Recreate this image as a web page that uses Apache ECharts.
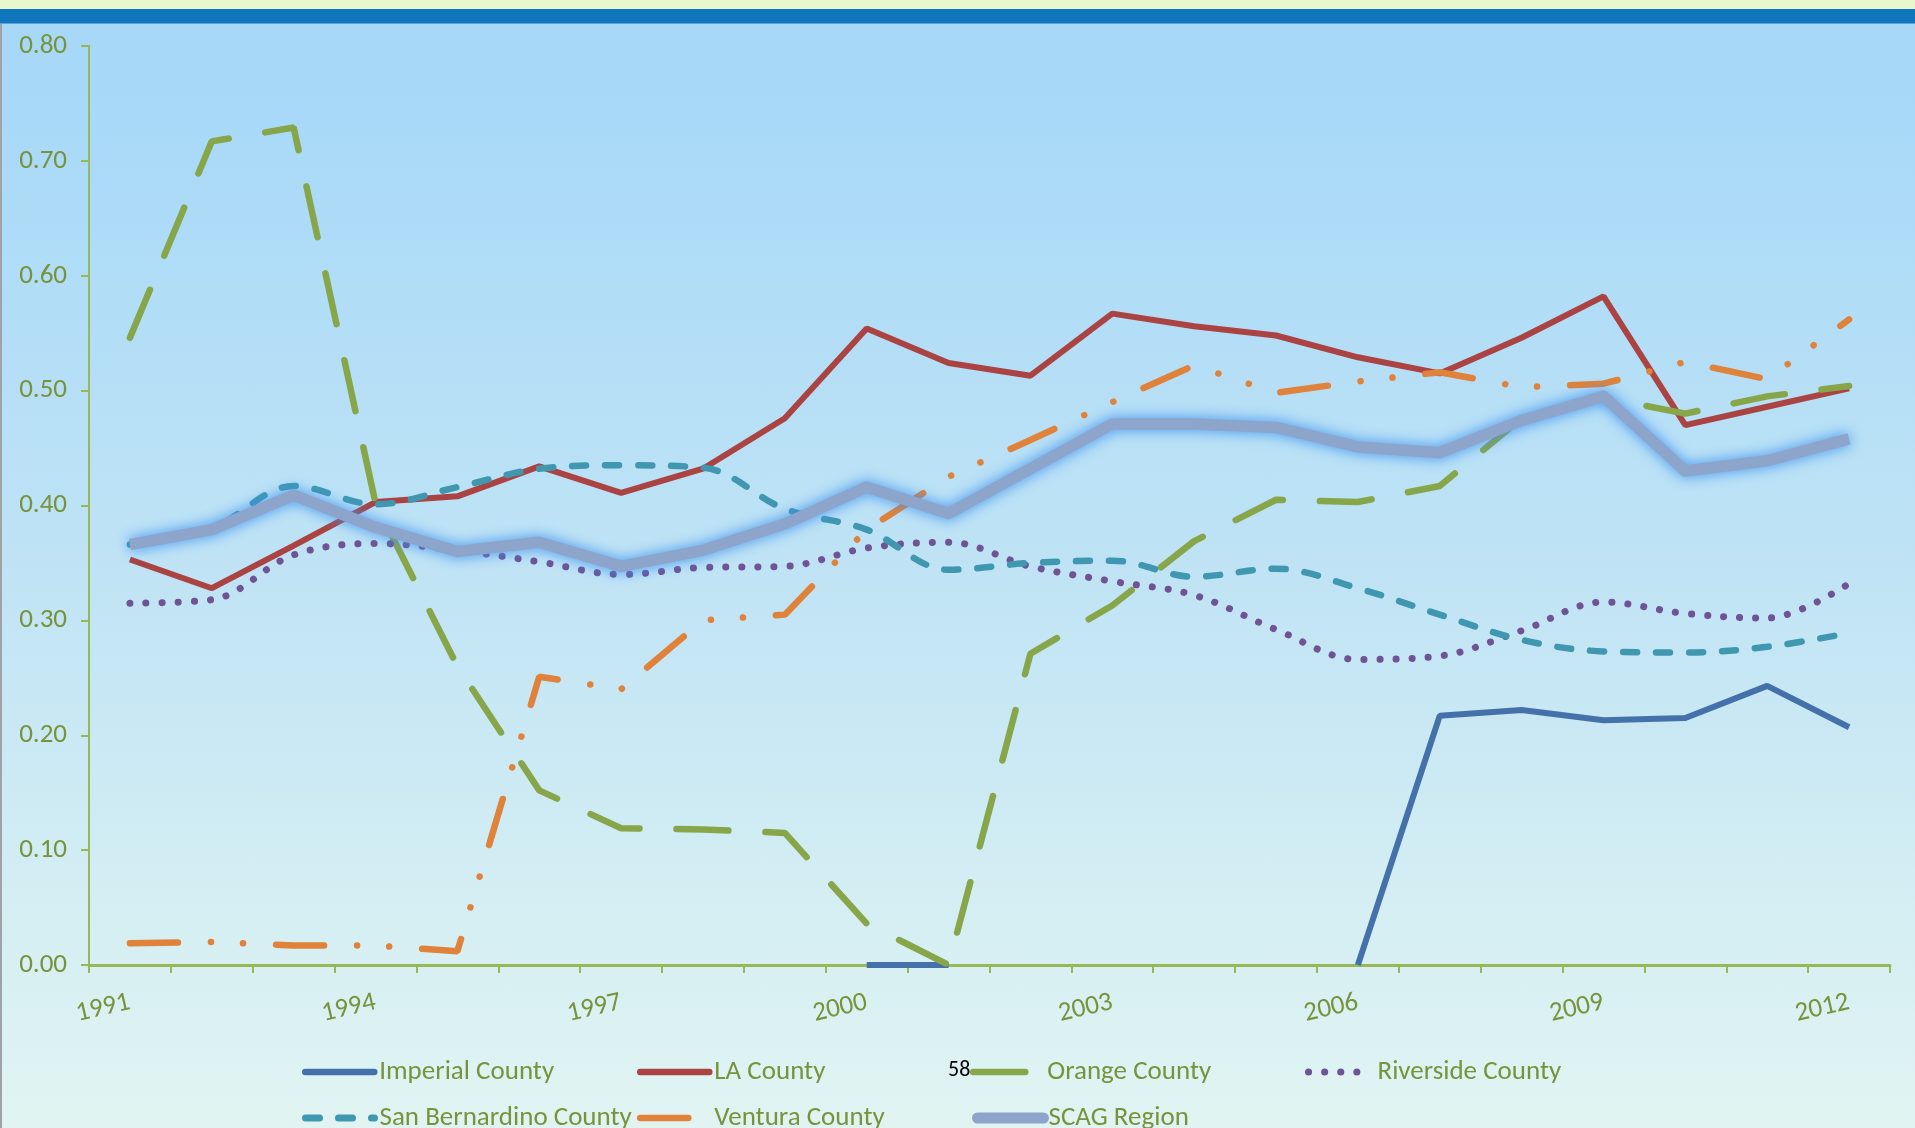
<!DOCTYPE html>
<html>
<head>
<meta charset="utf-8">
<script src="https://cdn.jsdelivr.net/npm/echarts@6/dist/echarts.min.js"></script>
<style>
  html, body { margin: 0; padding: 0; width: 1915px; height: 1128px; overflow: hidden; }
  body { background: linear-gradient(to bottom, #A6D7F7 0px, #A8D9F8 120px, #BFE3F5 560px, #D4EEF3 900px, #E1F4F2 1128px); position: relative; }
  #strip1 { position: absolute; left: 0; top: 0; width: 1915px; height: 9px; background: #EAF7CB; }
  #strip2 { position: absolute; left: 0; top: 9px; width: 1915px; height: 14px; background: #0F75BD; border-bottom: 1px solid #5FA0D6; }
  #lborder { position: absolute; left: 0; top: 24px; width: 2px; height: 1104px; background: #9DA3A8; }
  #chart { position: absolute; left: 0; top: 0; width: 1915px; height: 1128px; }
</style>
</head>
<body>
<div id="strip1"></div>
<div id="strip2"></div>
<div id="lborder"></div>
<div id="chart"></div>
<script>
const years = ['1991','1992','1993','1994','1995','1996','1997','1998','1999','2000','2001','2002','2003','2004','2005','2006','2007','2008','2009','2010','2011','2012'];
const imperialCounty = [null,null,null,null,null,null,null,null,null,0,0,null,null,null,null,0,0.217,0.222,0.213,0.215,0.243,0.207];
const laCounty = [0.353,0.328,0.365,0.403,0.408,0.434,0.411,0.432,0.476,0.554,0.524,0.513,0.567,0.556,0.548,0.529,0.515,0.546,0.582,0.470,0.486,0.502];
const orangeCounty = [0.546,0.717,0.729,0.402,0.260,0.152,0.119,0.118,0.115,0.036,0.000,0.271,0.313,0.369,0.405,0.403,0.417,0.476,0.494,0.480,0.495,0.504];
const riversideCounty = [0.315,0.318,0.357,0.367,0.361,0.351,0.340,0.346,0.347,0.363,0.368,0.347,0.334,0.322,0.292,0.266,0.269,0.291,0.316,0.306,0.302,0.332];
const sanBernardinoCounty = [0.366,0.380,0.417,0.401,0.416,0.432,0.435,0.433,0.397,0.379,0.344,0.350,0.352,0.338,0.345,0.328,0.305,0.283,0.273,0.272,0.277,0.289];
const venturaCounty = [0.019,0.020,0.017,0.017,0.012,0.251,0.240,0.300,0.305,0.379,0.425,0.457,0.490,0.522,0.498,0.508,0.516,0.503,0.506,0.525,0.510,0.562];
const scagRegion = [0.366,0.379,0.409,0.381,0.360,0.368,0.347,0.361,0.384,0.416,0.393,0.432,0.471,0.471,0.468,0.451,0.446,0.474,0.495,0.430,0.439,0.458];
const seriesNames = ['Imperial County','LA County','Orange County','Riverside County','San Bernardino County','Ventura County','SCAG Region'];
const pageNumber = '58';

const FONT = "Carlito, 'Liberation Sans Narrow', 'Arial Narrow', 'Open Sans', sans-serif";
const GREEN_TXT = '#77933C';
const AXIS_C = '#96B956';

const chart = echarts.init(document.getElementById('chart'), null, { renderer: 'canvas' });

function mkLegend(name, left, top, w, lw) {
  return {
    data: [name], left: left, top: top, padding: 0, orient: 'horizontal',
    itemWidth: w, itemHeight: 14, selectedMode: false,
    itemStyle: { opacity: 0 },
    lineStyle: { width: lw, type: 'inherit', cap: 'round' },
    textStyle: { color: GREEN_TXT, fontSize: 27, fontFamily: FONT, lineHeight: 28 }
  };
}

const option = {
  animation: false,
  backgroundColor: 'transparent',
  grid: { left: 89, right: 25, top: 46, bottom: 163, containLabel: false },
  legend: [
    mkLegend(seriesNames[0], 302, 1058, 69, 6.5),
    mkLegend(seriesNames[1], 637, 1058, 69, 6.5),
    mkLegend(seriesNames[2], 970, 1058, 69, 6.5),
    mkLegend(seriesNames[3], 1305, 1058, 64, 7),
    mkLegend(seriesNames[4], 302, 1104, 69, 7),
    mkLegend(seriesNames[5], 637, 1104, 69, 6.5),
    mkLegend(seriesNames[6], 972, 1104, 66, 11)
  ],
  xAxis: {
    type: 'category', data: years, boundaryGap: true,
    axisLine: { show: true, lineStyle: { color: AXIS_C, width: 3 } },
    axisTick: { show: true, interval: 0, length: 8, lineStyle: { color: AXIS_C, width: 2 } },
    axisLabel: { interval: 2, rotate: 13, margin: 37, color: GREEN_TXT, fontSize: 27, fontFamily: FONT },
    splitLine: { show: false }
  },
  yAxis: {
    type: 'value', min: 0, max: 0.8, interval: 0.1,
    axisLine: { show: true, lineStyle: { color: AXIS_C, width: 2 } },
    axisTick: { show: true, length: 8, lineStyle: { color: AXIS_C, width: 2 } },
    axisLabel: { margin: 22, color: GREEN_TXT, fontSize: 27, fontFamily: FONT, formatter: v => v.toFixed(2) },
    splitLine: { show: false }
  },
  series: [
    { name: seriesNames[0], type: 'line', data: imperialCounty, symbol: 'none', connectNulls: false, z: 3,
      lineStyle: { color: '#4471A9', width: 6 }, itemStyle: { color: '#4471A9' } },
    { name: seriesNames[1], type: 'line', data: laCounty, symbol: 'none', z: 4,
      lineStyle: { color: '#AA4341', width: 6 }, itemStyle: { color: '#AA4341' } },
    { name: seriesNames[2], type: 'line', data: orangeCounty, symbol: 'none', z: 4,
      lineStyle: { color: '#87A64A', width: 6.5, type: [52, 37], cap: 'round' }, itemStyle: { color: '#87A64A' } },
    { name: seriesNames[3], type: 'line', data: riversideCounty, symbol: 'none', smooth: 0.35, z: 4,
      lineStyle: { color: '#6F5394', width: 7, type: [0.1, 16], cap: 'round' }, itemStyle: { color: '#6F5394' } },
    { name: seriesNames[4], type: 'line', data: sanBernardinoCounty, symbol: 'none', smooth: 0.35, z: 4,
      lineStyle: { color: '#3F98B0', width: 6.5, type: [14, 19], cap: 'round' }, itemStyle: { color: '#3F98B0' } },
    { name: seriesNames[5], type: 'line', data: venturaCounty, symbol: 'none', z: 4,
      lineStyle: { color: '#E0823A', width: 6.5, type: [48, 33, 0.1, 32, 0.1, 33], cap: 'round' }, itemStyle: { color: '#E0823A' } },
    { name: seriesNames[6], type: 'line', data: scagRegion, symbol: 'none', z: 5,
      lineStyle: { color: '#8EA5CB', width: 11.5, shadowColor: 'rgba(60,145,240,1)', shadowBlur: 14, join: 'round' },
      itemStyle: { color: '#8EA5CB' } }
  ],
  graphic: [
    { type: 'text', left: 948, top: 1059, z: 100,
      style: { text: pageNumber, fill: '#000', fontSize: 22, fontFamily: FONT } }
  ]
};
chart.setOption(option);
</script>
</body>
</html>
